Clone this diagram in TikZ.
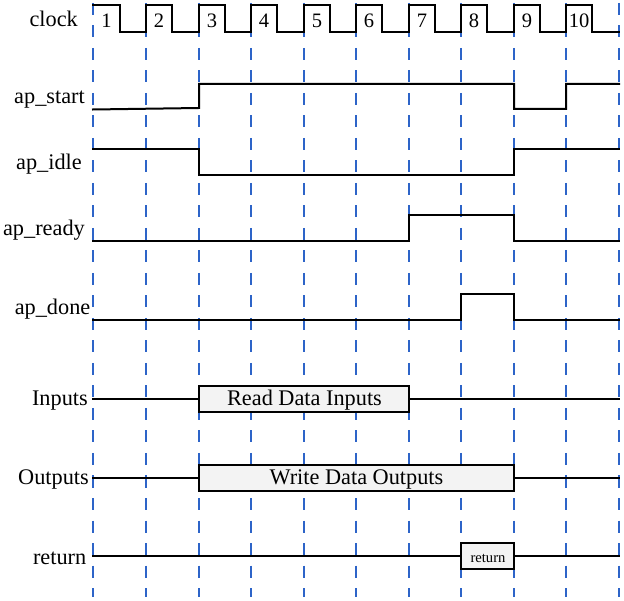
\documentclass[tikz,border=0pt]{standalone}
\usepackage{fontspec}
\setmainfont{Liberation Serif}
\definecolor{dblue}{RGB}{45,100,200}
\definecolor{boxgray}{RGB}{243,243,243}
\begin{document}
\begin{tikzpicture}[x=1pt,y=-1pt,
  sig/.style={line width=2pt, black, line join=miter, line cap=rect},
  gridline/.style={dblue, line width=2pt, dash pattern=on 12pt off 10.5pt},
  lbl/.style={anchor=base east, inner sep=0pt, font=\fontsize{22.3}{25}\selectfont},
  num/.style={anchor=base, inner sep=0pt, font=\fontsize{20.5}{24}\selectfont},
  databox/.style={draw, line width=2pt, fill=boxgray, inner sep=0pt, outer sep=0pt},
  boxtext/.style={anchor=base, inner sep=0pt, font=\fontsize{22.3}{25}\selectfont},
  smalltext/.style={anchor=base, inner sep=0pt, font=\fontsize{14.6}{16}\selectfont}]
\useasboundingbox (0,0) rectangle (624,601);

% clock-edge grid
\foreach \x in {93,146,199,251,304,356,409,461,514,566,619}
  \draw[gridline] (\x,3) -- (\x,597);

% clock
\draw[sig] (93,5)
  -- (120,5) -- (120,32) -- (146,32) -- (146,5)
  -- (172,5) -- (172,32) -- (199,32) -- (199,5)
  -- (225,5) -- (225,32) -- (251,32) -- (251,5)
  -- (277,5) -- (277,32) -- (304,32) -- (304,5)
  -- (330,5) -- (330,32) -- (356,32) -- (356,5)
  -- (382,5) -- (382,32) -- (409,32) -- (409,5)
  -- (435,5) -- (435,32) -- (461,32) -- (461,5)
  -- (487,5) -- (487,32) -- (514,32) -- (514,5)
  -- (540,5) -- (540,32) -- (566,32) -- (566,5)
  -- (592,5) -- (592,32) -- (619,32);
\foreach \x/\t in {106.5/1,159/2,212/3,264/4,317/5,369/6,422/7,474/8,527/9,579/10}
  \node[num] (n\t) at (\x,28) {\t};

% labels
\node[lbl] (lclock) at (78,27) {clock};
\node[lbl] (lstart) at (85,104) {ap\_start};
\node[lbl] (lidle) at (82,169.5) {ap\_idle};
\node[lbl] (lready) at (85,236) {ap\_ready};
\node[lbl] (ldone) at (90.5,315) {ap\_done};
\node[lbl] (lin) at (88,406) {Inputs};
\node[lbl] (lout) at (89,485) {Outputs};
\node[lbl] (lret) at (86.5,564) {return};

% control signals
\draw[sig] (93,109.5) -- (199,108) -- (199,84) -- (514,84) -- (514,109)
  -- (566,109) -- (566,84) -- (619,84);
\draw[sig] (93,149) -- (199,149) -- (199,175) -- (514,175) -- (514,149) -- (619,149);
\draw[sig] (93,241) -- (409,241) -- (409,215) -- (514,215) -- (514,241) -- (619,241);
\draw[sig] (93,320) -- (461,320) -- (461,294) -- (514,294) -- (514,320) -- (619,320);

% Inputs
\node[databox, minimum width=210pt, minimum height=26pt] (rin) at (304,399) {};
\node[boxtext] (tin) at (304.5,406) {Read Data Inputs};
\draw[sig] (93,399) -- (rin.west);
\draw[sig] (rin.east) -- (619,399);

% Outputs
\node[databox, minimum width=315pt, minimum height=26pt] (rout) at (356.5,477.5) {};
\node[boxtext] (tout) at (356.5,485) {Write Data Outputs};
\draw[sig] (93,477.5) -- (rout.west);
\draw[sig] (rout.east) -- (619,477.5);

% return
\node[databox, minimum width=53pt, minimum height=26pt] (rret) at (487.5,556) {};
\node[smalltext] (tret) at (488,562.7) {return};
\draw[sig] (93,556) -- (rret.west);
\draw[sig] (rret.east) -- (619,556);
\end{tikzpicture}
\end{document}
